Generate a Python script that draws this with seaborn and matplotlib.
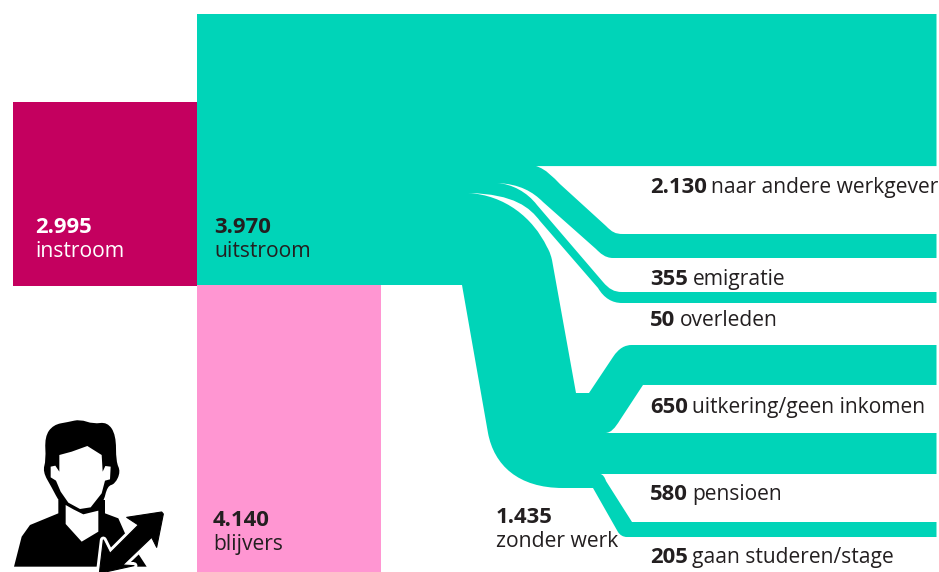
import matplotlib
matplotlib.use("Agg")
import matplotlib.pyplot as plt
import matplotlib.patches as ptc
from matplotlib.path import Path
import seaborn as sns
import pandas as pd

# values
block_names = ["instroom", "blijvers", "uitstroom"]
block_values = [2995, 4140, 3970]
flow_names = ["naar andere werkgever", "emigratie", "overleden",
              "uitkering/geen inkomen", "pensioen", "gaan studeren/stage"]
flow_values = [2130, 355, 50, 650, 580, 205]
flow_number_labels = ["2.130", "355", "50", "650", "580", "205"]
block_number_labels = ["2.995", "4.140", "3.970"]
sub_total_name = "zonder werk"
sub_total_label = "1.435"

# layout, in pixels of the picture
W, H = 939, 572
TEAL = "#00d4b8"
MAGENTA = "#c4005f"
PINK = "#ff96d2"
DARK = "#231f20"
FONT = "Open Sans"
FS = 15.25
FS_BOLD = 15.9
FS_FLOW = 15.1
COL_W = 184
COL_LEFT = 13
RIGHT = 936.5

block_col = ["links", "midden", "midden"]
block_top = [102, 285, 14]
block_scale = [0.06144, 0.06932, 0.06826]
block_color = [MAGENTA, PINK, TEAL]
block_text_x = [35, 213, 214]
block_text_y = [233, 526, 233]
block_text_color = ["white", DARK, DARK]

# the source is not quite to scale, each band has its own px per value
flow_top = [14, 234, 292, 345, 433, 522]
flow_scale = [0.0714, 0.0676, 0.22, 0.0615, 0.0707, 0.0732]
flow_text_y = [193, 285, 326, 413, 500, 563]
FLOW_TEXT_X = 650


def band_bottom(i):
    return flow_top[i] + flow_values[i] * flow_scale[i]


def flow_outline():
    t = flow_top
    b = [band_bottom(i) for i in range(6)]
    verts = [(375, t[0])]
    codes = [Path.MOVETO]

    def L(x, y):
        verts.append((x, y))
        codes.append(Path.LINETO)

    def C(x1, y1, x2, y2, x, y):
        verts.extend([(x1, y1), (x2, y2), (x, y)])
        codes.extend([Path.CURVE4] * 3)

    L(RIGHT, t[0])
    L(RIGHT, b[0])
    L(536, b[0])
    # emigratie
    C(546, b[0] + 3, 553, b[0] + 11, 560, b[0] + 18)
    L(606, t[1] - 8)
    C(612, t[1] - 2, 615, t[1], 623, t[1])
    L(RIGHT, t[1])
    L(RIGHT, b[1])
    L(613, b[1])
    C(605, b[1], 600, b[1] - 5, 596, b[1] - 9)
    L(543, 202)
    C(533, 192, 520, 184, 497, 183)
    # overleden
    C(512, 184, 527, 192, 537, 205)
    L(603, t[2] - 10)
    C(609, t[2] - 3, 614, t[2], 622, t[2])
    L(RIGHT, t[2])
    L(RIGHT, b[2])
    L(622, b[2])
    C(612, b[2], 604, b[2] - 5, 598, b[2] - 15)
    L(540, 221)
    C(530, 208, 515, 194, 468, 193)
    # zonder werk, right edge
    C(505, 195, 533, 218, 547, 247)
    C(550, 252, 551, 256, 552, 260)
    L(576, 393)
    L(589, 393)
    # uitkering
    L(613, t[3] + 12)
    C(619, t[3] + 3, 625, t[3], 632, t[3])
    L(RIGHT, t[3])
    L(RIGHT, b[3])
    L(643, b[3])
    L(620, 420)
    C(615, 428, 611, t[4], 605, t[4])
    # pensioen
    L(RIGHT, t[4])
    L(RIGHT, b[4])
    L(600, b[4])
    C(603, b[4], 605, b[4] + 4, 606, b[4] + 7)
    L(632, t[5])
    # studeren
    L(RIGHT, t[5])
    L(RIGHT, b[5])
    L(627, b[5])
    C(623, b[5], 620, b[5] - 2, 618, b[5] - 5)
    L(593, 488)
    L(563, 488)
    C(518, 488, 494, 465, 488, 433)
    L(462, 285)
    L(375, 285)
    L(375, t[0])
    return Path(verts, codes)


def smooth_path(points):
    # closed curve through the midpoints, the points act as control points
    n = len(points)
    mid = [((points[k][0] + points[(k + 1) % n][0]) / 2,
            (points[k][1] + points[(k + 1) % n][1]) / 2) for k in range(n)]
    verts = [mid[-1]]
    codes = [Path.MOVETO]
    for k in range(n):
        verts.extend([points[k], mid[k]])
        codes.extend([Path.CURVE3, Path.CURVE3])
    return Path(verts, codes)


def icon_px(points):
    return [(x / 3, 400 + y / 3) for x, y in points]


def draw_icon(ax):
    head = [(128, 215), (138, 180), (134, 110), (160, 74), (205, 66), (240, 58), (280, 72),
            (322, 66), (348, 105), (348, 185), (362, 215), (345, 252), (322, 258),
            (310, 310), (270, 348), (220, 348), (180, 310), (155, 262)]
    body = [(42, 500), (65, 410), (90, 375), (175, 340), (175, 300), (315, 300), (315, 340),
            (355, 355), (375, 400), (440, 500)]
    face = [(178, 165), (215, 155), (262, 138), (305, 165), (308, 215), (316, 198),
            (332, 200), (330, 238), (315, 242), (305, 280), (272, 322), (240, 327),
            (205, 308), (182, 275), (168, 242), (152, 232), (152, 200), (166, 197),
            (178, 215)]
    neck = [(197, 315), (220, 328), (250, 343), (295, 332), (295, 395), (245, 425),
            (197, 372)]
    arrow = [(380, 352), (485, 336), (490, 342), (470, 442), (455, 412), (368, 495),
             (402, 497), (298, 520), (310, 420), (330, 460), (415, 375)]
    ax.add_patch(ptc.PathPatch(smooth_path(icon_px(head)), color="black", lw=0))
    ax.add_patch(ptc.Polygon(icon_px(body), color="black", lw=0))
    ax.add_patch(ptc.Polygon(icon_px(face), color="white", lw=0))
    ax.add_patch(ptc.Polygon(icon_px(neck), color="white", lw=0))
    # white halo first, the black arrow on top keeps its full width
    ax.add_patch(ptc.Polygon(icon_px(arrow), facecolor="white", edgecolor="white",
                             lw=5, joinstyle="round"))
    ax.add_patch(ptc.Polygon(icon_px(arrow), facecolor="black", edgecolor="black",
                             lw=0.8, joinstyle="round"))


def two_part_label(ax, x, y, number, name, color=DARK):
    # bold number with the plain name right after it
    t = ax.text(x, y, number, fontweight="bold", fontsize=FS_BOLD, color=color,
                family=FONT, va="baseline")
    bb = t.get_window_extent(renderer=ax.figure.canvas.get_renderer())
    ax.text(bb.x1 + 4.5, y, name, fontsize=FS_FLOW, color=color, family=FONT, va="baseline")


def stacked_label(ax, x, y, number, name, color=DARK):
    ax.text(x, y, number, fontweight="bold", fontsize=FS_BOLD, color=color, family=FONT,
            va="baseline")
    ax.text(x, y + 24, name, fontsize=FS, color=color, family=FONT, va="baseline")


if __name__ == '__main__':
    sns.set_theme(style="white")
    fig = plt.figure(figsize=(W / 100, H / 100), dpi=100)
    ax = fig.add_axes([0, 0, 1, 1])

    # the three blocks, one barplot call each because each has its own top
    for i in range(3):
        df = pd.DataFrame({"col": [block_col[i]],
                           "height": [block_values[i] * block_scale[i]]})
        sns.barplot(data=df, x="col", y="height", order=["links", "midden"], width=1,
                    color=block_color[i], saturation=1, bottom=block_top[i],
                    linewidth=0, ax=ax)

    # category 0 is centred on COL_LEFT + COL_W / 2
    x0 = (COL_LEFT + COL_W / 2) / COL_W
    ax.set_xlim(-x0, W / COL_W - x0)
    ax.set_ylim(H, 0)
    ax.axis("off")

    over = fig.add_axes([0, 0, 1, 1], zorder=2)
    over.set_xlim(0, W)
    over.set_ylim(H, 0)
    over.axis("off")
    over.patch.set_alpha(0)

    over.add_patch(ptc.PathPatch(flow_outline(), facecolor=TEAL, edgecolor="none", lw=0))
    draw_icon(over)

    for i in range(3):
        stacked_label(over, block_text_x[i], block_text_y[i], block_number_labels[i],
                      block_names[i], block_text_color[i])
    stacked_label(over, 496, 523, sub_total_label, sub_total_name)
    for i in range(6):
        two_part_label(over, FLOW_TEXT_X, flow_text_y[i], flow_number_labels[i], flow_names[i])

    fig.savefig("out.png", dpi=100, facecolor="white")
